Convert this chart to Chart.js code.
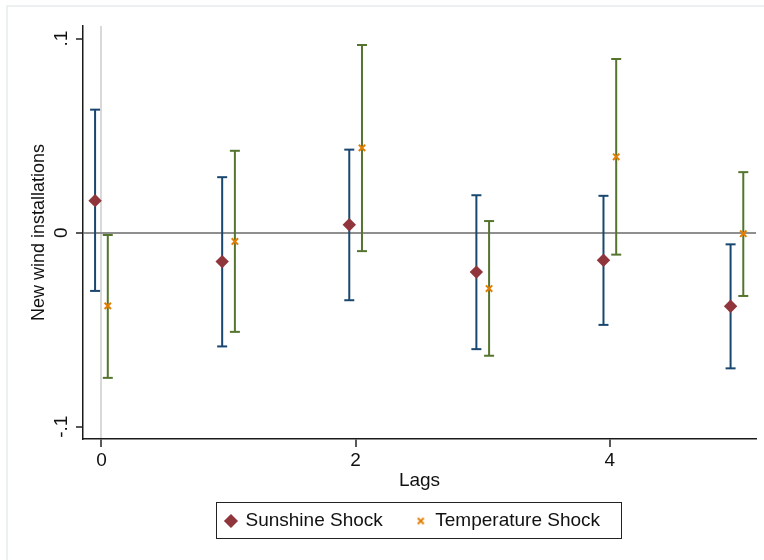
<!DOCTYPE html>
<html>
<head>
<meta charset="utf-8">
<script src="https://cdn.jsdelivr.net/npm/chart.js@4.4.0/dist/chart.umd.min.js"></script>
<style>
  html, body { margin: 0; padding: 0; background: #fff; }
</style>
</head>
<body>
<canvas id="myChart" width="764" height="560"></canvas>
<script>
// lags on the x axis
const lags = [0, 1, 2, 3, 4, 5];

// Sunshine shock: point estimate and confidence interval
const sunshineCoef = [0.0165, -0.0149, 0.0041, -0.0203, -0.0142, -0.0379];
const sunshineLow = [-0.0300, -0.0586, -0.0348, -0.0600, -0.0475, -0.0699];
const sunshineHigh = [0.0634, 0.0286, 0.0428, 0.0193, 0.0190, -0.0060];

// Temperature shock: point estimate and confidence interval
const tempCoef = [-0.0377, -0.0045, 0.0437, -0.0288, 0.0391, -0.0005];
const tempLow = [-0.0748, -0.0511, -0.0095, -0.0634, -0.0113, -0.0326];
const tempHigh = [-0.0012, 0.0422, 0.0967, 0.0060, 0.0895, 0.0312];

const xTickValues = [0, 2, 4];
const xTickLabels = ["0", "2", "4"];
const yTickValues = [-0.1, 0, 0.1];
const yTickLabels = ["-.1", "0", ".1"];

const navy = "#1a476f";
const maroon = "#90353b";
const green = "#55752f";
const orange = "#e37e00";
const sunOffset = -0.05;
const tempOffset = 0.05;

Chart.defaults.font.family = "'Liberation Sans', Arial, sans-serif";
Chart.defaults.color = "#111";

function points(offset, values) {
  return lags.map((lag, i) => ({ x: lag + offset, y: values[i] }));
}

// vertical bar from low to high for each lag, with a gap in between
function whiskers(offset, low, high) {
  let out = [];
  lags.forEach((lag, i) => {
    out.push({ x: lag + offset, y: low[i] });
    out.push({ x: lag + offset, y: high[i] });
    out.push({ x: lag + offset, y: null });
  });
  return out;
}

// small x used as the legend key for the temperature series
const smallCross = document.createElement("canvas");
smallCross.width = 9;
smallCross.height = 9;
{
  const c = smallCross.getContext("2d");
  c.strokeStyle = orange;
  c.lineWidth = 1.8;
  c.beginPath();
  c.moveTo(1.5, 1.5);
  c.lineTo(7.5, 7.5);
  c.moveTo(7.5, 1.5);
  c.lineTo(1.5, 7.5);
  c.stroke();
}

const legendNames = ["Sunshine Shock", "Temperature Shock"];

const stataLook = {
  id: "stataLook",
  beforeDraw(chart) {
    const ctx = chart.ctx;
    ctx.save();
    ctx.strokeStyle = "#e6ecec";
    ctx.lineWidth = 1.5;
    ctx.strokeRect(7, 6, 900, 700);
    ctx.restore();
  },
  afterLayout(chart) {
    // centre the legend under the plot region
    const legend = chart.legend;
    const area = chart.chartArea;
    legend.left = area.left - 13;
    legend.right = area.right;
    legend.top = area.bottom + 39.5;
    legend.bottom = legend.top + legend.height;
  },
  afterDraw(chart) {
    const boxes = chart.legend.legendHitBoxes;
    if (!boxes || !boxes.length) return;
    const first = boxes[0];
    const last = boxes[boxes.length - 1];
    const mid = first.top + first.height / 2;
    const ctx = chart.ctx;
    ctx.save();
    ctx.strokeStyle = "#222";
    ctx.lineWidth = 1;
    const left = Math.round(first.left - 10) + 0.5;
    const right = Math.round(last.left + last.width + 21) + 0.5;
    const top = Math.round(mid - 19) + 0.5;
    const bottom = Math.round(mid + 17) + 0.5;
    ctx.strokeRect(left, top, right - left, bottom - top);
    ctx.restore();
  }
};

let ctx = document.getElementById("myChart");
let myChart = new Chart(ctx, {
  type: "scatter",
  data: {
    datasets: [
      {
        label: "Sunshine Shock",
        data: points(sunOffset, sunshineCoef),
        pointStyle: "rectRot",
        pointRadius: 6.7,
        backgroundColor: maroon,
        borderColor: maroon,
        borderWidth: 0,
        order: 0
      },
      {
        label: "Temperature Shock",
        data: points(tempOffset, tempCoef),
        pointStyle: "crossRot",
        pointRadius: 4.5,
        backgroundColor: orange,
        borderColor: orange,
        borderWidth: 2,
        order: 0
      },
      {
        label: "sunshine ci",
        data: whiskers(sunOffset, sunshineLow, sunshineHigh),
        showLine: true,
        spanGaps: false,
        pointRadius: 0,
        borderColor: navy,
        borderWidth: 2,
        order: 1
      },
      {
        label: "sunshine caps",
        data: points(sunOffset, sunshineLow).concat(points(sunOffset, sunshineHigh)),
        pointStyle: "line",
        pointRadius: 5,
        borderColor: navy,
        borderWidth: 2,
        order: 1
      },
      {
        label: "temperature ci",
        data: whiskers(tempOffset, tempLow, tempHigh),
        showLine: true,
        spanGaps: false,
        pointRadius: 0,
        borderColor: green,
        borderWidth: 2,
        order: 1
      },
      {
        label: "temperature caps",
        data: points(tempOffset, tempLow).concat(points(tempOffset, tempHigh)),
        pointStyle: "line",
        pointRadius: 5,
        borderColor: green,
        borderWidth: 2,
        order: 1
      }
    ]
  },
  options: {
    responsive: false,
    animation: false,
    events: [],
    layout: { padding: { left: 0, right: 8, top: 26, bottom: 6 } },
    plugins: {
      tooltip: { enabled: false },
      legend: {
        position: "bottom",
        labels: {
          usePointStyle: true,
          boxWidth: 10,
          boxHeight: 10,
          padding: 33,
          color: "#111",
          font: { size: 19 },
          filter: item => legendNames.includes(item.text),
          generateLabels: chart => {
            const items = Chart.defaults.plugins.legend.labels.generateLabels(chart);
            items.forEach(item => {
              if (item.text === "Temperature Shock") item.pointStyle = smallCross;
            });
            return items;
          }
        }
      }
    },
    scales: {
      x: {
        type: "linear",
        min: -0.145,
        max: 5.15,
        afterBuildTicks: scale => {
          scale.ticks = xTickValues.map(v => ({ value: v }));
        },
        afterFit: scale => {
          scale.height = 53;
        },
        ticks: {
          font: { size: 19 },
          color: "#111",
          padding: 2,
          maxRotation: 0,
          callback: value => xTickLabels[xTickValues.indexOf(value)]
        },
        grid: {
          drawOnChartArea: true,
          drawTicks: true,
          tickLength: 8,
          tickColor: "#222",
          tickWidth: 1.5,
          color: c => (c.tick && c.tick.value === 0 ? "#d9d9d9" : "rgba(0,0,0,0)"),
          lineWidth: 2
        },
        border: { display: true, color: "#1a1a1a", width: 1.5 },
        title: {
          display: true,
          text: "Lags",
          color: "#111",
          font: { size: 19 },
          padding: { top: 0, bottom: 0 }
        }
      },
      y: {
        type: "linear",
        min: -0.1063,
        max: 0.1065,
        afterBuildTicks: scale => {
          scale.ticks = yTickValues.map(v => ({ value: v }));
        },
        afterFit: scale => {
          scale.width = 83;
        },
        ticks: {
          font: { size: 19 },
          color: "#111",
          padding: 3,
          minRotation: 90,
          maxRotation: 90,
          crossAlign: "center",
          callback: value => yTickLabels[yTickValues.indexOf(value)]
        },
        grid: {
          drawOnChartArea: true,
          drawTicks: true,
          tickLength: 7,
          tickColor: "#222",
          tickWidth: 1.5,
          color: c => (c.tick && c.tick.value === 0 ? "#8f8f8f" : "rgba(0,0,0,0)"),
          lineWidth: 2
        },
        border: { display: true, color: "#1a1a1a", width: 1.5 },
        title: {
          display: true,
          text: "New wind installations",
          color: "#111",
          font: { size: 18 },
          padding: { top: 28, bottom: 0 }
        }
      }
    }
  },
  plugins: [stataLook]
});
</script>
</body>
</html>
